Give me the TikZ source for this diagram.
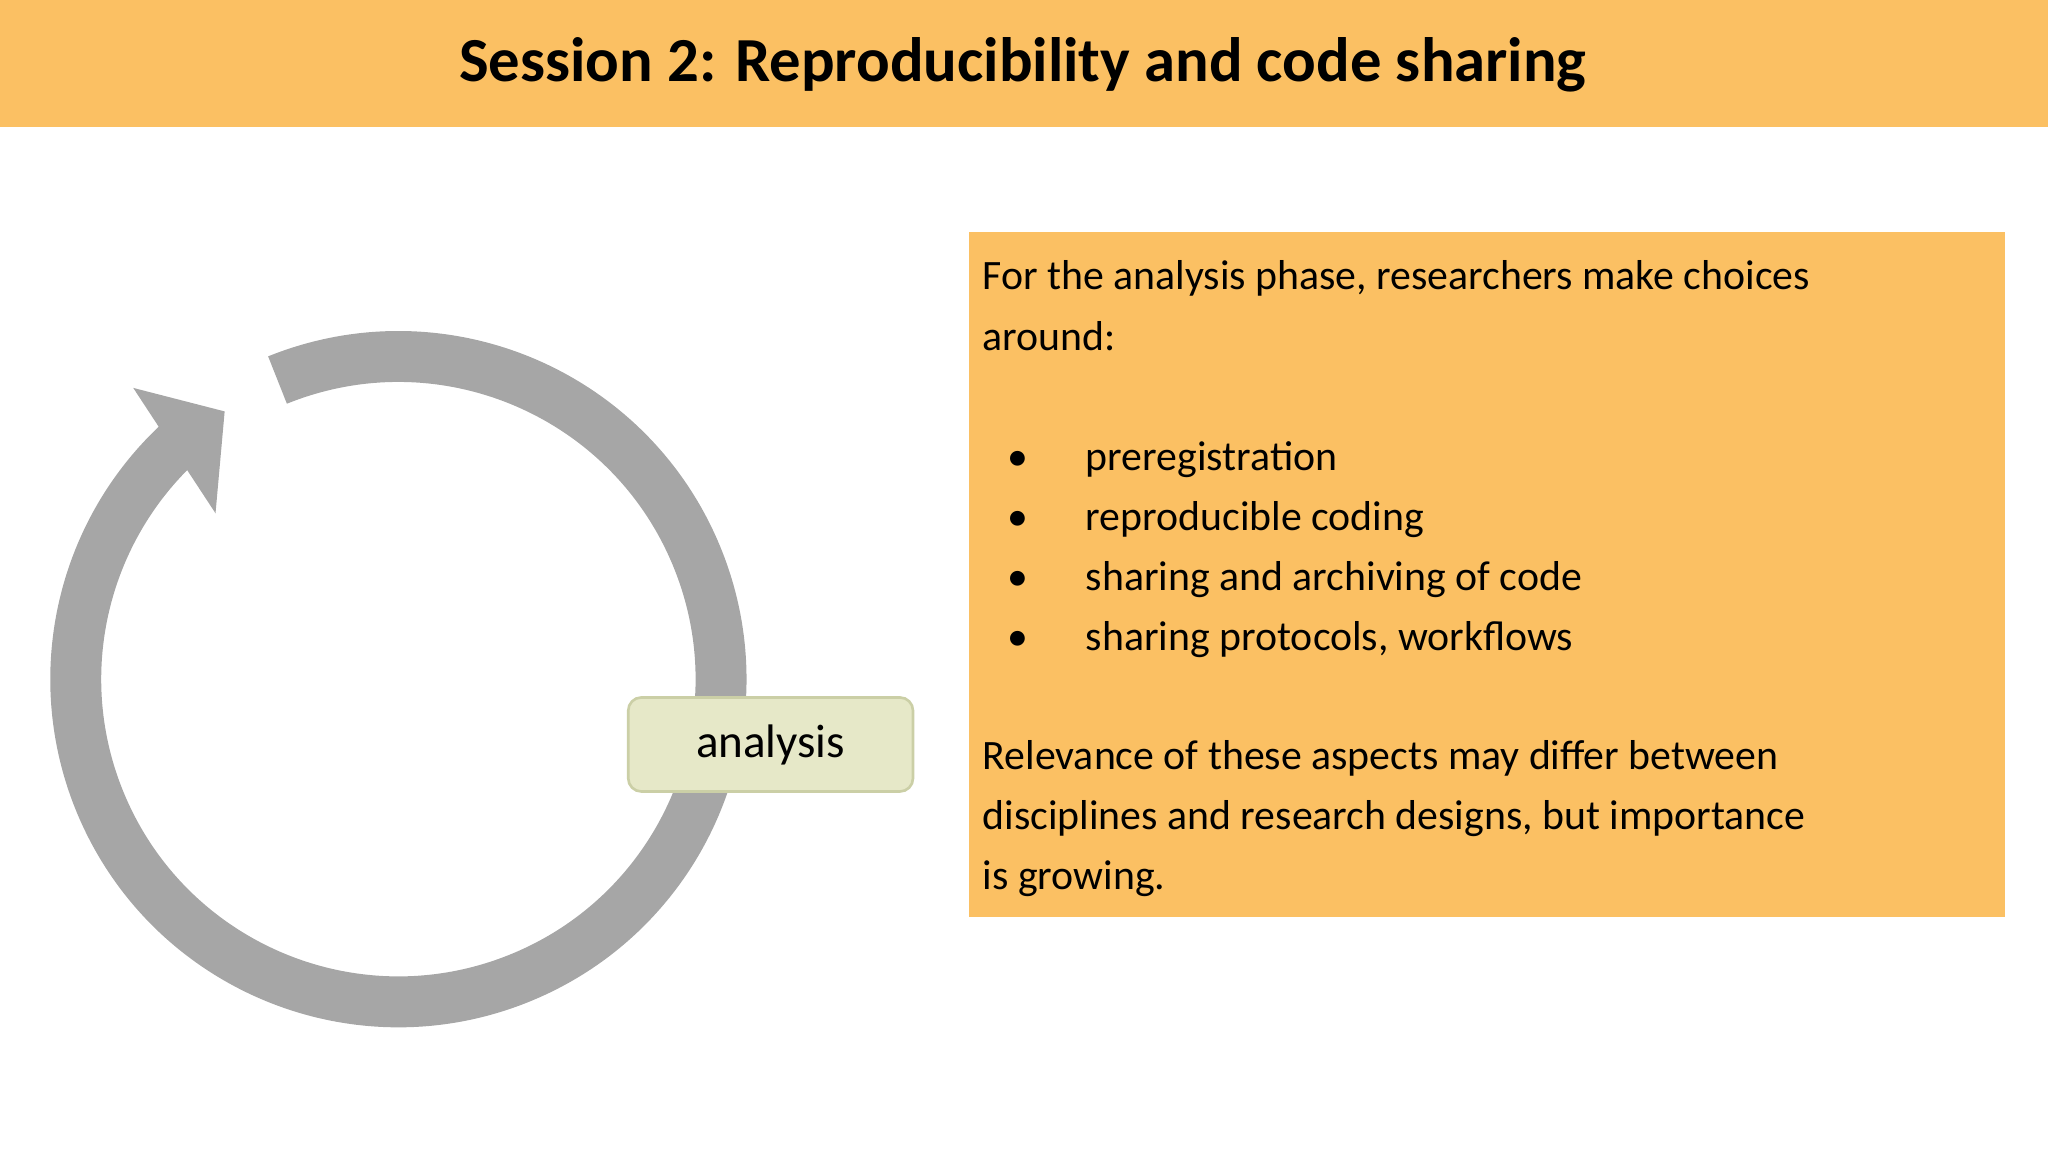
\documentclass[tikz,border=0pt]{standalone}
\usepackage{fontspec}
\setmainfont{Carlito}
\definecolor{ora}{HTML}{FBC063}
\definecolor{ring}{HTML}{A6A6A6}
\definecolor{anf}{HTML}{E6E8C8}
\definecolor{anb}{HTML}{CBCFA6}
\begin{document}
\begin{tikzpicture}[x=0.5pt,y=0.5pt,
  body/.style={anchor=base west,inner sep=0pt,font=\fontsize{16}{19}\selectfont},
  bul/.style={anchor=base,inner sep=0pt,font=\fontsize{16}{19}\selectfont}]
\useasboundingbox (0,0) rectangle (1568,882);
\fill[ora] (0,785) rectangle (1568,882);
\node[font=\fontsize{24}{28}\selectfont\bfseries] (title) at (783,832) {Session 2: Reproducibility and code sharing};
\fill[ora] (742,180) rectangle (1535,704);
% ring
\coordinate (c) at (305,362);
\draw[ring,line width=19.5pt] (c) ++(112:247) arc[start angle=112,end angle=-230,radius=247];
\fill[ring] (102,585) -- (172,567) -- (165,489) -- cycle;
\node[draw=anb,fill=anf,rounded corners=5pt,line width=1pt,minimum width=109pt,minimum height=36pt,font=\fontsize{18}{22}\selectfont] (an) at (590,312) {analysis};
% text
\node[body] (t1) at (752,660) {For the analysis phase, researchers make choices};
\node[body] (t2) at (752,614) {around:};
\foreach \y/\t [count=\i] in {522/preregistration,476/reproducible coding,430/sharing and archiving of code,384/{sharing protocols, workflows}}{
  \node[bul] (b\i) at (779,\y) {\textbullet};
  \node[body] (l\i) at (831,\y) {\t};
}
\node[body] (r1) at (752,293) {Relevance of these aspects may differ between};
\node[body] (r2) at (752,247) {disciplines and research designs, but importance};
\node[body] (r3) at (752,201) {is growing.};
\end{tikzpicture}
\end{document}
